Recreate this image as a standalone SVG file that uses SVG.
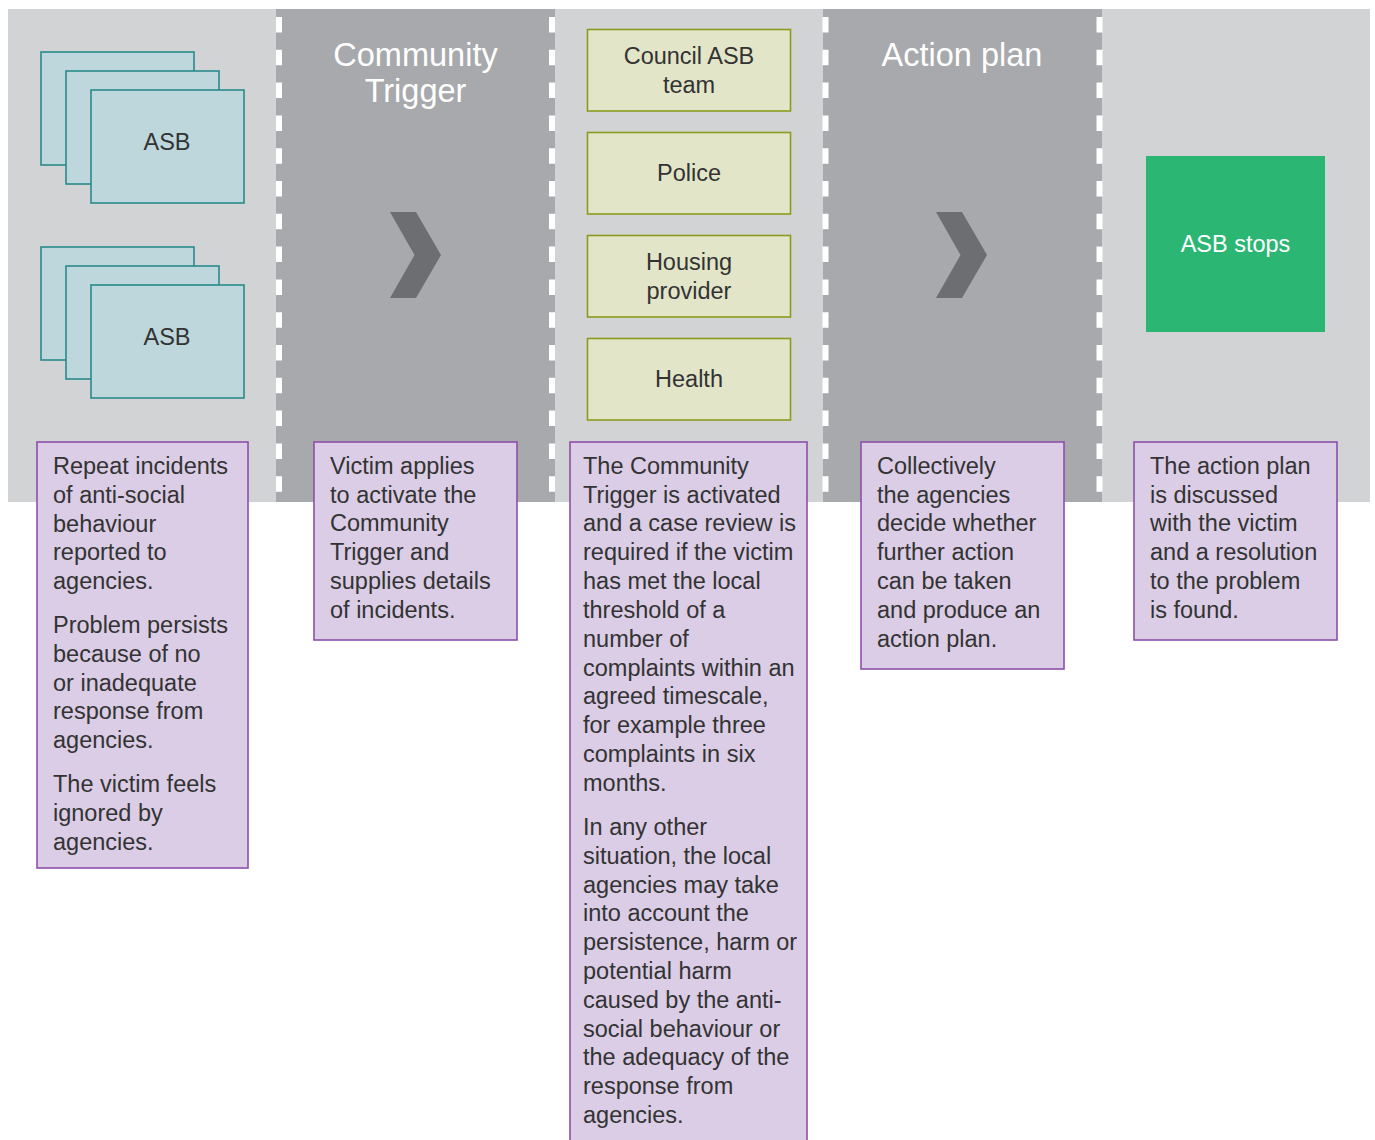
<svg xmlns="http://www.w3.org/2000/svg" width="1375" height="1140" viewBox="0 0 1375 1140">
<style>
text{font-family:"Liberation Sans",Arial,sans-serif;fill:#333333}
.title{font-size:32.5px;fill:#ffffff;text-anchor:middle}
.lbl{font-size:23.5px;text-anchor:middle}
.body{font-size:23.5px}
.asb{fill:#bdd7dc;stroke:#2a8a8c;stroke-width:1.6}
.agency{fill:#e2e5c8;stroke:#8c9b1e;stroke-width:1.6}
.desc{fill:#dacde5;stroke:#8e4fab;stroke-width:1.6}
.dash{stroke:#ffffff;stroke-width:6;stroke-dasharray:15.5 17.3;fill:none}
.chev{fill:#6d6e71}
</style>
<g id="background">
<rect x="8" y="9" width="1362" height="493" fill="#d1d3d4"/>
<rect x="276" y="9" width="279" height="493" fill="#a7a9ac"/>
<rect x="823" y="9" width="279" height="493" fill="#a7a9ac"/>
</g>
<g id="connectors">
<line class="dash" x1="279" y1="17" x2="279" y2="502"/>
<line class="dash" x1="552" y1="17" x2="552" y2="502"/>
<line class="dash" x1="825.5" y1="17" x2="825.5" y2="502"/>
<line class="dash" x1="1099.5" y1="17" x2="1099.5" y2="502"/>
<polygon class="chev" points="390,212 416,212 441,255 416,298 390,298 414.5,255"/>
<polygon class="chev" points="936,212 962,212 987,255 962,298 936,298 960.5,255"/>
</g>
<g id="asb1">
<rect class="asb" x="41" y="52" width="153" height="113"/>
<rect class="asb" x="66" y="71" width="153" height="113"/>
<rect class="asb" x="91" y="90" width="153" height="113"/>
<text class="lbl" x="167" y="150">ASB</text>
</g>
<g id="asb2">
<rect class="asb" x="41" y="247" width="153" height="113"/>
<rect class="asb" x="66" y="266" width="153" height="113"/>
<rect class="asb" x="91" y="285" width="153" height="113"/>
<text class="lbl" x="167" y="345">ASB</text>
</g>
<g id="title-trigger">
<text class="title" x="415.5" y="66">Community</text>
<text class="title" x="415.5" y="102">Trigger</text>
</g>
<g id="title-action">
<text class="title" x="962" y="66">Action plan</text>
</g>
<g id="council">
<rect class="agency" x="587.5" y="29.5" width="203" height="81.5"/>
<text class="lbl" x="689" y="64">Council ASB</text>
<text class="lbl" x="689" y="93">team</text>
</g>
<g id="police">
<rect class="agency" x="587.5" y="132.5" width="203" height="81.5"/>
<text class="lbl" x="689" y="181">Police</text>
</g>
<g id="housing">
<rect class="agency" x="587.5" y="235.5" width="203" height="81.5"/>
<text class="lbl" x="689" y="270">Housing</text>
<text class="lbl" x="689" y="299">provider</text>
</g>
<g id="health">
<rect class="agency" x="587.5" y="338.5" width="203" height="81.5"/>
<text class="lbl" x="689" y="387">Health</text>
</g>
<g id="asb-stops">
<rect x="1146" y="156" width="179" height="176" fill="#2bb673"/>
<text class="lbl" x="1235.5" y="252" style="fill:#ffffff">ASB stops</text>
</g>
<g id="desc1">
<rect class="desc" x="37" y="442" width="211" height="426"/>
<text class="body" x="53">
<tspan x="53" y="474">Repeat incidents</tspan>
<tspan x="53" y="503">of anti-social</tspan>
<tspan x="53" y="532">behaviour</tspan>
<tspan x="53" y="560">reported to</tspan>
<tspan x="53" y="589">agencies.</tspan>
<tspan x="53" y="633">Problem persists</tspan>
<tspan x="53" y="662">because of no</tspan>
<tspan x="53" y="691">or inadequate</tspan>
<tspan x="53" y="719">response from</tspan>
<tspan x="53" y="748">agencies.</tspan>
<tspan x="53" y="792">The victim feels</tspan>
<tspan x="53" y="821">ignored by</tspan>
<tspan x="53" y="850">agencies.</tspan>
</text>
</g>
<g id="desc2">
<rect class="desc" x="314" y="442" width="203" height="198"/>
<text class="body">
<tspan x="330" y="474">Victim applies</tspan>
<tspan x="330" y="503">to activate the</tspan>
<tspan x="330" y="531">Community</tspan>
<tspan x="330" y="560">Trigger and</tspan>
<tspan x="330" y="589">supplies details</tspan>
<tspan x="330" y="618">of incidents.</tspan>
</text>
</g>
<g id="desc3">
<rect class="desc" x="570" y="442" width="237" height="705"/>
<text class="body">
<tspan x="583" y="474">The Community</tspan>
<tspan x="583" y="503">Trigger is activated</tspan>
<tspan x="583" y="531">and a case review is</tspan>
<tspan x="583" y="560">required if the victim</tspan>
<tspan x="583" y="589">has met the local</tspan>
<tspan x="583" y="618">threshold of a</tspan>
<tspan x="583" y="647">number of</tspan>
<tspan x="583" y="676">complaints within an</tspan>
<tspan x="583" y="704">agreed timescale,</tspan>
<tspan x="583" y="733">for example three</tspan>
<tspan x="583" y="762">complaints in six</tspan>
<tspan x="583" y="791">months.</tspan>
<tspan x="583" y="835">In any other</tspan>
<tspan x="583" y="864">situation, the local</tspan>
<tspan x="583" y="893">agencies may take</tspan>
<tspan x="583" y="921">into account the</tspan>
<tspan x="583" y="950">persistence, harm or</tspan>
<tspan x="583" y="979">potential harm</tspan>
<tspan x="583" y="1008">caused by the anti-</tspan>
<tspan x="583" y="1037">social behaviour or</tspan>
<tspan x="583" y="1065">the adequacy of the</tspan>
<tspan x="583" y="1094">response from</tspan>
<tspan x="583" y="1123">agencies.</tspan>
</text>
</g>
<g id="desc4">
<rect class="desc" x="861" y="442" width="203" height="227"/>
<text class="body">
<tspan x="877" y="474">Collectively</tspan>
<tspan x="877" y="503">the agencies</tspan>
<tspan x="877" y="531">decide whether</tspan>
<tspan x="877" y="560">further action</tspan>
<tspan x="877" y="589">can be taken</tspan>
<tspan x="877" y="618">and produce an</tspan>
<tspan x="877" y="647">action plan.</tspan>
</text>
</g>
<g id="desc5">
<rect class="desc" x="1134" y="442" width="203" height="198"/>
<text class="body">
<tspan x="1150" y="474">The action plan</tspan>
<tspan x="1150" y="503">is discussed</tspan>
<tspan x="1150" y="531">with the victim</tspan>
<tspan x="1150" y="560">and a resolution</tspan>
<tspan x="1150" y="589">to the problem</tspan>
<tspan x="1150" y="618">is found.</tspan>
</text>
</g>
</svg>
